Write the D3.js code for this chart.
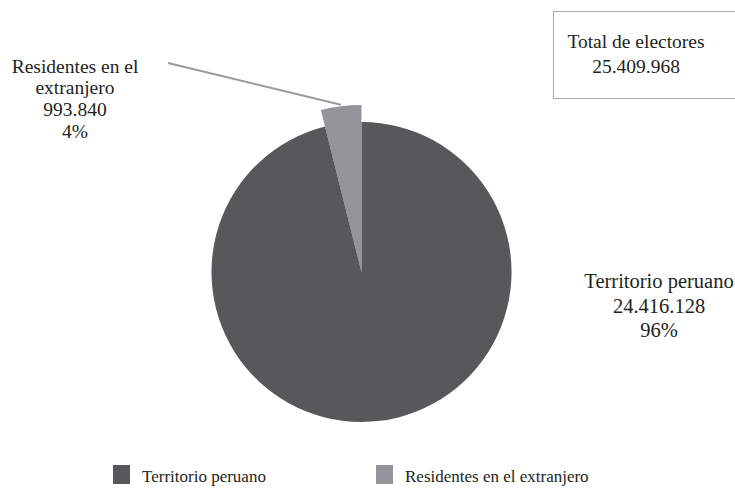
<!DOCTYPE html>
<html><head><meta charset="utf-8">
<script src="https://cdn.jsdelivr.net/npm/d3@7"></script>
<style>body{margin:0;background:#fff}svg{display:block}text{font-family:"Liberation Serif","DejaVu Serif",serif;fill:#231f20}</style>
</head><body>
<script>
const categories = ["Residentes en el extranjero", "Territorio peruano"];
const values = [993840, 24416128];
const percentLabels = ["4%", "96%"];
const valueLabels = ["993.840", "24.416.128"];
const totalLabel = ["Total de electores", "25.409.968"];
const legendOrder = ["Territorio peruano", "Residentes en el extranjero"];
const colors = {"Territorio peruano": "#58585a", "Residentes en el extranjero": "#939598"};

const W = 735, H = 488;
const svg = d3.select("body").append("svg").attr("width", W).attr("height", H);
const cx = 361.5, cy = 272, R = 150, Rsmall = 167;
const total = d3.sum(values);
const frac0 = values[0] / total;
const pie = d3.pie().sort(null).value(d => d.v)
  .startAngle(-frac0 * 2 * Math.PI).endAngle(2 * Math.PI - frac0 * 2 * Math.PI);
const data = categories.map((c, i) => ({c, v: values[i]}));
const arcs = pie(data);
const g = svg.append("g").attr("transform", `translate(${cx},${cy})`);
const arcBig = d3.arc().innerRadius(0).outerRadius(R);
const arcSmall = d3.arc().innerRadius(0).outerRadius(Rsmall);
g.selectAll("path").data(arcs).join("path")
  .attr("d", d => d.index === 0 ? arcSmall(d) : arcBig(d))
  .attr("fill", d => colors[d.data.c]);

// leader line
const a0 = arcs[0];
const mid = (a0.startAngle + a0.endAngle) / 2;
const lr = Rsmall + 1.5;
svg.append("line")
  .attr("x1", 168).attr("y1", 63)
  .attr("x2", cx + lr * Math.sin(mid)).attr("y2", cy - lr * Math.cos(mid))
  .attr("stroke", "#999a9c").attr("stroke-width", 2);

// left label
const leftLines = ["Residentes en el", "extranjero", valueLabels[0], percentLabels[0]];
svg.append("text").attr("text-anchor", "middle").attr("font-size", 19.5)
  .selectAll("tspan").data(leftLines).join("tspan")
  .attr("x", 75).attr("y", (d, i) => 72.5 + i * 21.7).text(d => d);

// right label
const rightLines = [categories[1], valueLabels[1], percentLabels[1]];
svg.append("text").attr("text-anchor", "middle").attr("font-size", 20.5)
  .selectAll("tspan").data(rightLines).join("tspan")
  .attr("x", 659).attr("y", (d, i) => 288 + i * 24.5).text(d => d);

// total box
svg.append("rect").attr("x", 553.5).attr("y", 11.5).attr("width", 200).attr("height", 87)
  .attr("fill", "none").attr("stroke", "#a7a9ac").attr("stroke-width", 1);
svg.append("text").attr("text-anchor", "middle").attr("font-size", 19.5)
  .selectAll("tspan").data(totalLabel).join("tspan")
  .attr("x", 636).attr("y", (d, i) => 48 + i * 25).text(d => d);

// legend
const legX = [113, 376];
const lg = svg.selectAll("g.leg").data(legendOrder).join("g").attr("class", "leg")
  .attr("transform", (d, i) => `translate(${legX[i]},465)`);
lg.append("rect").attr("width", 17).attr("height", 19).attr("fill", d => colors[d]);
lg.append("text").attr("x", 29).attr("y", 16.5).attr("font-size", 17).text(d => d);
</script>
</body></html>
